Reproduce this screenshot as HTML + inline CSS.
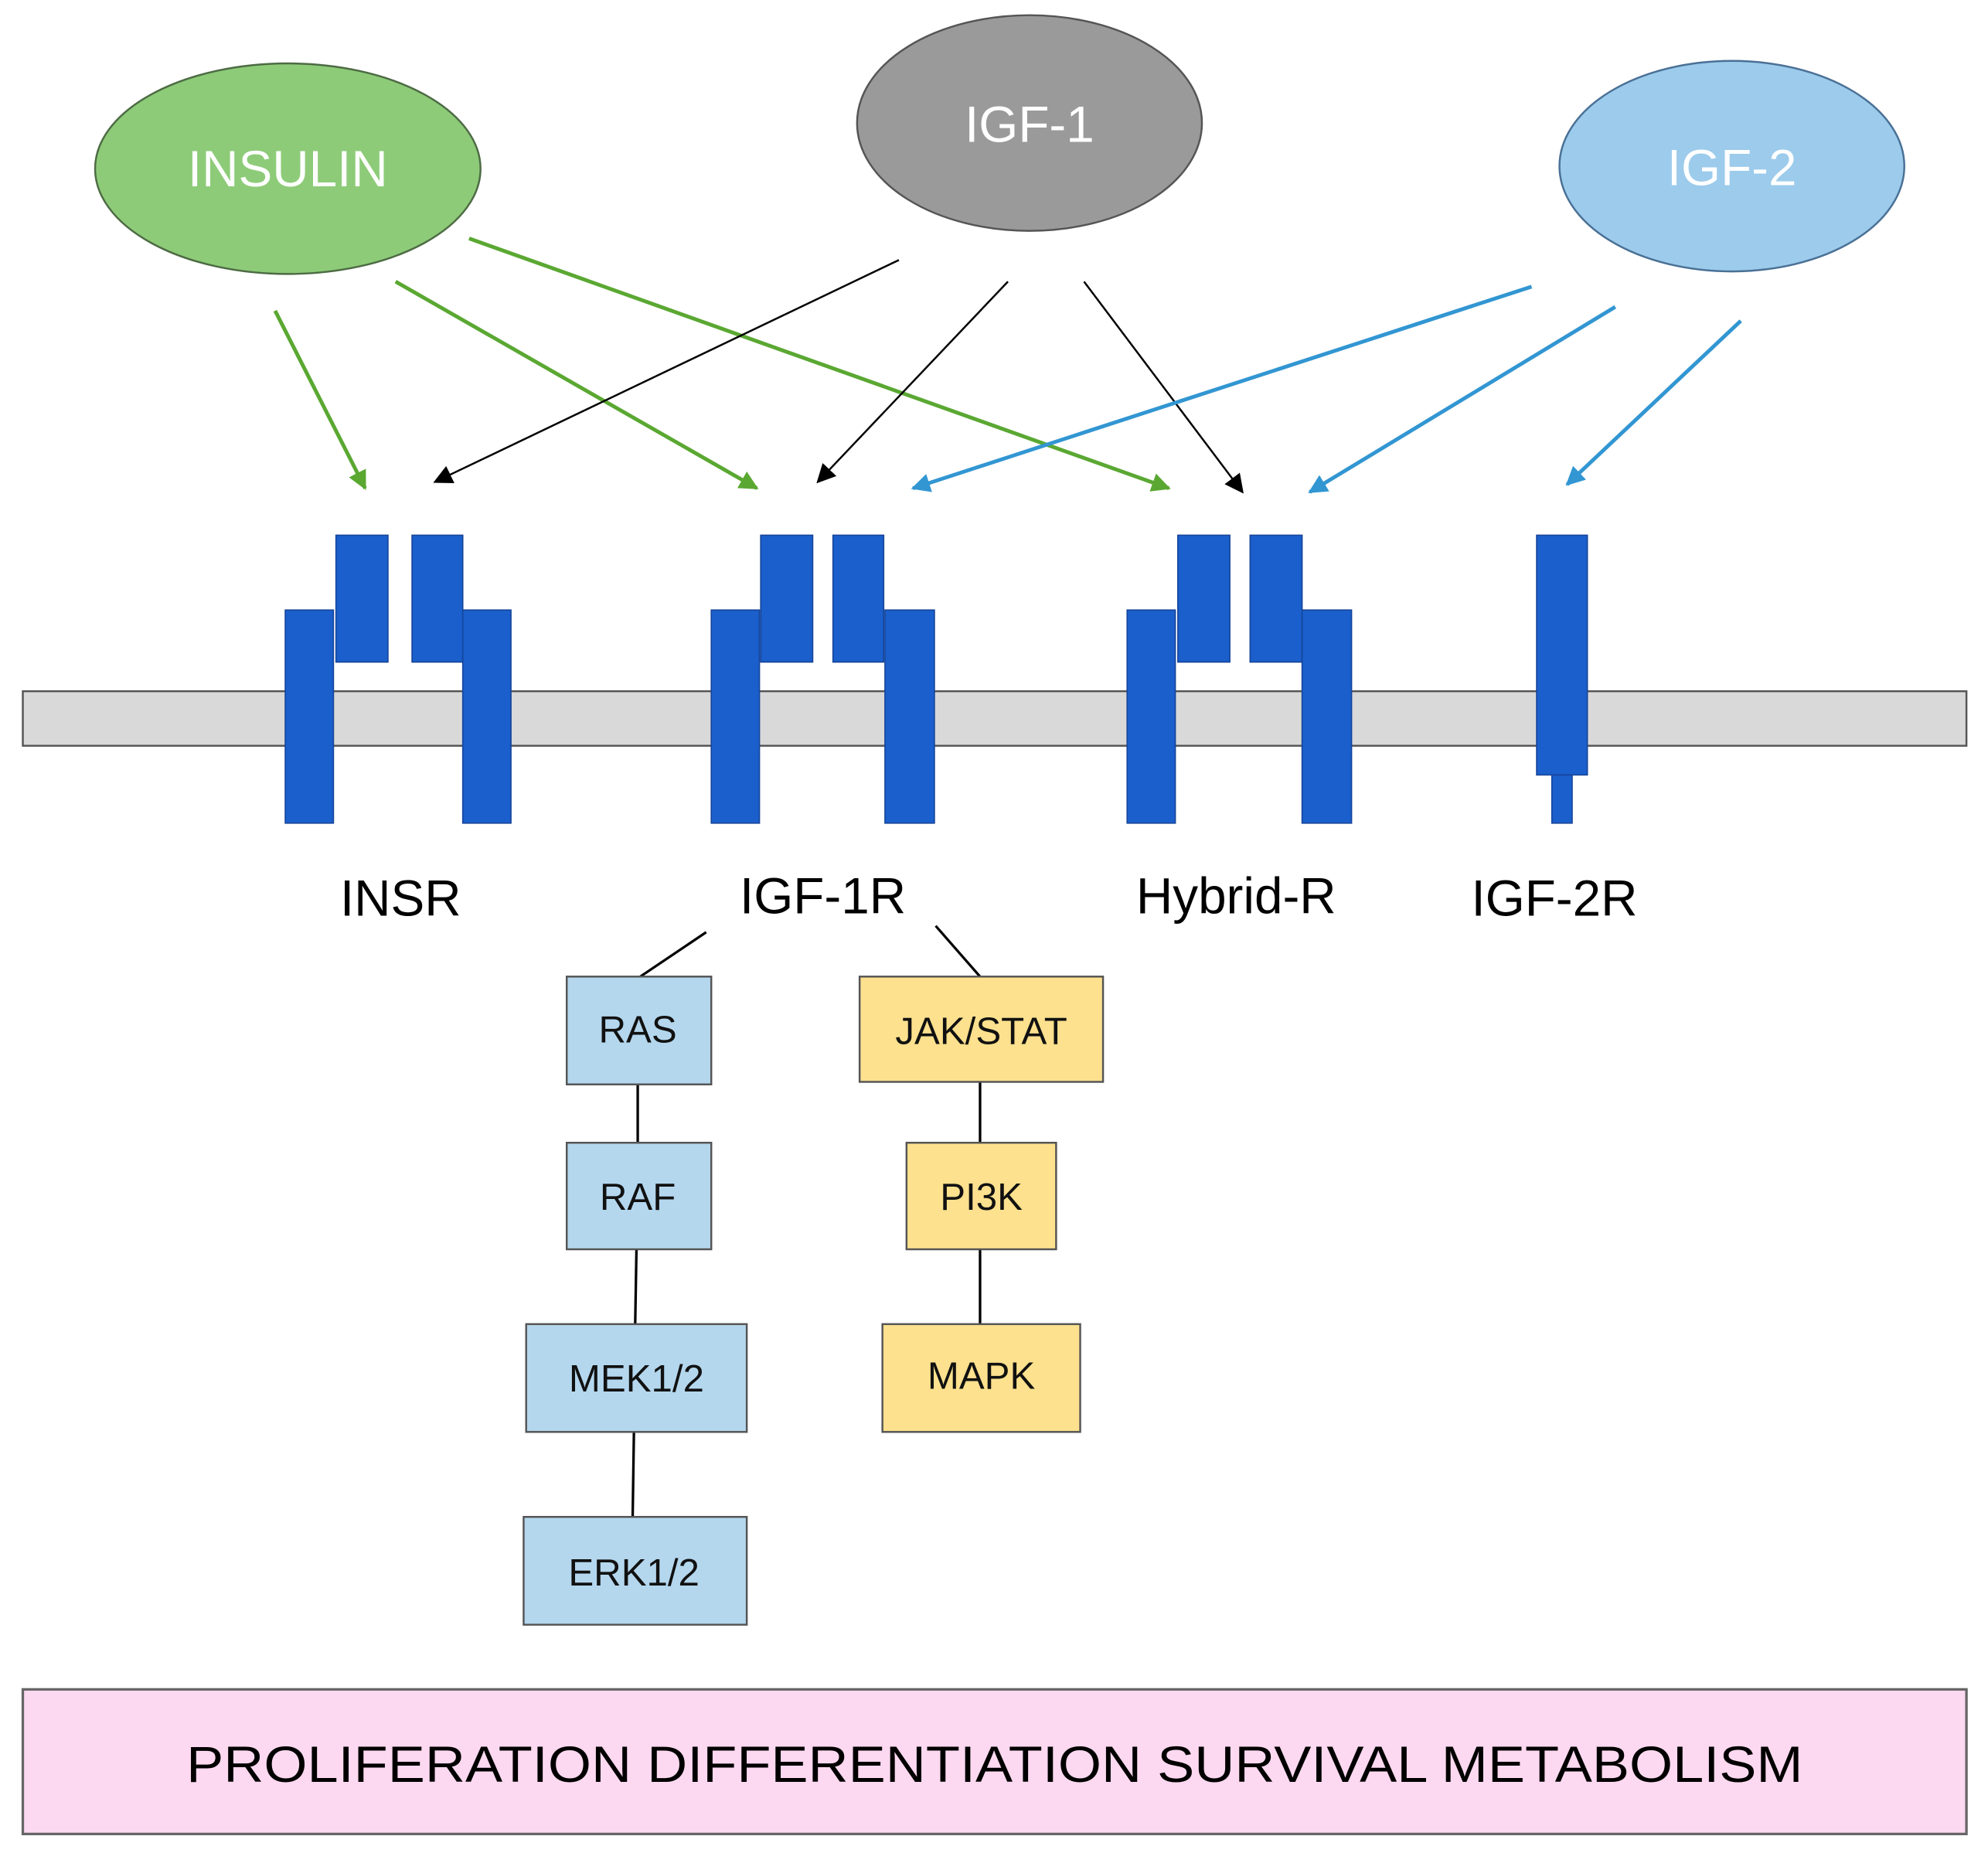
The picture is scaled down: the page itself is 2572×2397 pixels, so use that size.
<!DOCTYPE html>
<html><head><meta charset="utf-8"><style>html,body{margin:0;padding:0;background:#fff}svg{display:block}</style></head>
<body>
<svg width="2572" height="2397" viewBox="0 0 1568 1461" preserveAspectRatio="none" xmlns="http://www.w3.org/2000/svg" font-family="Liberation Sans, sans-serif">
<defs>
<marker id="g" viewBox="0 0 10 10" refX="9" refY="5" markerWidth="5" markerHeight="5" orient="auto"><path d="M0,0L10,5L0,10z" fill="#5aa832"/></marker>
<marker id="k" viewBox="0 0 10 10" refX="9" refY="5" markerWidth="10" markerHeight="10" orient="auto"><path d="M0,0L10,5L0,10z" fill="#000"/></marker>
<marker id="b" viewBox="0 0 10 10" refX="9" refY="5" markerWidth="5" markerHeight="5" orient="auto"><path d="M0,0L10,5L0,10z" fill="#3296d2"/></marker>
</defs>
<ellipse cx="227" cy="133" rx="152" ry="83" fill="#8dcb78" stroke="#4d6b44" stroke-width="1.5"/>
<ellipse cx="812" cy="97" rx="136" ry="85" fill="#9a9a9a" stroke="#555" stroke-width="1.5"/>
<ellipse cx="1366" cy="131" rx="136" ry="83" fill="#9ccbec" stroke="#4a7095" stroke-width="1.5"/>
<g fill="#fff" font-size="40" text-anchor="middle">
<text x="227" y="147">INSULIN</text><text x="812" y="112">IGF-1</text><text x="1366" y="146">IGF-2</text></g>
<g stroke-width="3" fill="none">
<line x1="217" y1="245" x2="288" y2="385" stroke="#5aa832" marker-end="url(#g)"/>
<line x1="312" y1="222" x2="597" y2="385" stroke="#5aa832" marker-end="url(#g)"/>
<line x1="370" y1="188" x2="922" y2="385" stroke="#5aa832" marker-end="url(#g)"/>
<line x1="709" y1="205" x2="343" y2="380" stroke="#000" stroke-width="1.5" marker-end="url(#k)"/>
<line x1="795" y1="222" x2="645" y2="380" stroke="#000" stroke-width="1.5" marker-end="url(#k)"/>
<line x1="855" y1="222" x2="980" y2="388" stroke="#000" stroke-width="1.5" marker-end="url(#k)"/>
<line x1="1208" y1="226" x2="720" y2="385" stroke="#3296d2" marker-end="url(#b)"/>
<line x1="1274" y1="242" x2="1033" y2="388" stroke="#3296d2" marker-end="url(#b)"/>
<line x1="1373" y1="253" x2="1236" y2="382" stroke="#3296d2" marker-end="url(#b)"/>
</g>
<rect x="18" y="545" width="1533" height="43" fill="#d9d9d9" stroke="#555" stroke-width="1.5"/>
<g fill="#1a5fcc" stroke="#16459a" stroke-width="1">
<rect x="225" y="481" width="38" height="168"/><rect x="265" y="422" width="41" height="100"/><rect x="325" y="422" width="40" height="100"/><rect x="365" y="481" width="38" height="168"/>
<rect x="561" y="481" width="38" height="168"/><rect x="600" y="422" width="41" height="100"/><rect x="657" y="422" width="40" height="100"/><rect x="698" y="481" width="39" height="168"/>
<rect x="889" y="481" width="38" height="168"/><rect x="929" y="422" width="41" height="100"/><rect x="986" y="422" width="41" height="100"/><rect x="1027" y="481" width="39" height="168"/>
<rect x="1212" y="422" width="40" height="189"/><rect x="1224" y="611" width="16" height="38"/>
</g>
<g font-size="40" text-anchor="middle" fill="#000">
<text x="316" y="722">INSR</text><text x="649" y="720">IGF-1R</text><text x="975" y="720">Hybrid-R</text><text x="1226" y="722">IGF-2R</text></g>
<g stroke="#000" stroke-width="2">
<line x1="557" y1="735" x2="505" y2="770"/><line x1="738" y1="730" x2="773" y2="770"/>
<line x1="503" y1="855" x2="503" y2="901"/><line x1="502" y1="985" x2="501" y2="1044"/><line x1="500" y1="1129" x2="499" y2="1196"/>
<line x1="773" y1="853" x2="773" y2="901"/><line x1="773" y1="985" x2="773" y2="1044"/>
</g>
<g stroke="#555" stroke-width="1.5">
<rect x="447" y="770" width="114" height="85" fill="#b4d7ee"/>
<rect x="447" y="901" width="114" height="84" fill="#b4d7ee"/>
<rect x="415" y="1044" width="174" height="85" fill="#b4d7ee"/>
<rect x="413" y="1196" width="176" height="85" fill="#b4d7ee"/>
<rect x="678" y="770" width="192" height="83" fill="#fde18e"/>
<rect x="715" y="901" width="118" height="84" fill="#fde18e"/>
<rect x="696" y="1044" width="156" height="85" fill="#fde18e"/>
</g>
<g font-size="30" text-anchor="middle" fill="#111">
<text x="503" y="822">RAS</text><text x="503" y="954">RAF</text><text x="502" y="1097">MEK1/2</text><text x="500" y="1250">ERK1/2</text>
<text x="774" y="823">JAK/STAT</text><text x="774" y="954">PI3K</text><text x="774" y="1095">MAPK</text></g>
<rect x="18" y="1332" width="1533" height="114" fill="#fcd9f0" stroke="#666" stroke-width="2"/>
<text x="147" y="1405" font-size="40" fill="#000" textLength="1275" lengthAdjust="spacingAndGlyphs">PROLIFERATION  DIFFERENTIATION  SURVIVAL  METABOLISM</text>
</svg>
</body></html>
